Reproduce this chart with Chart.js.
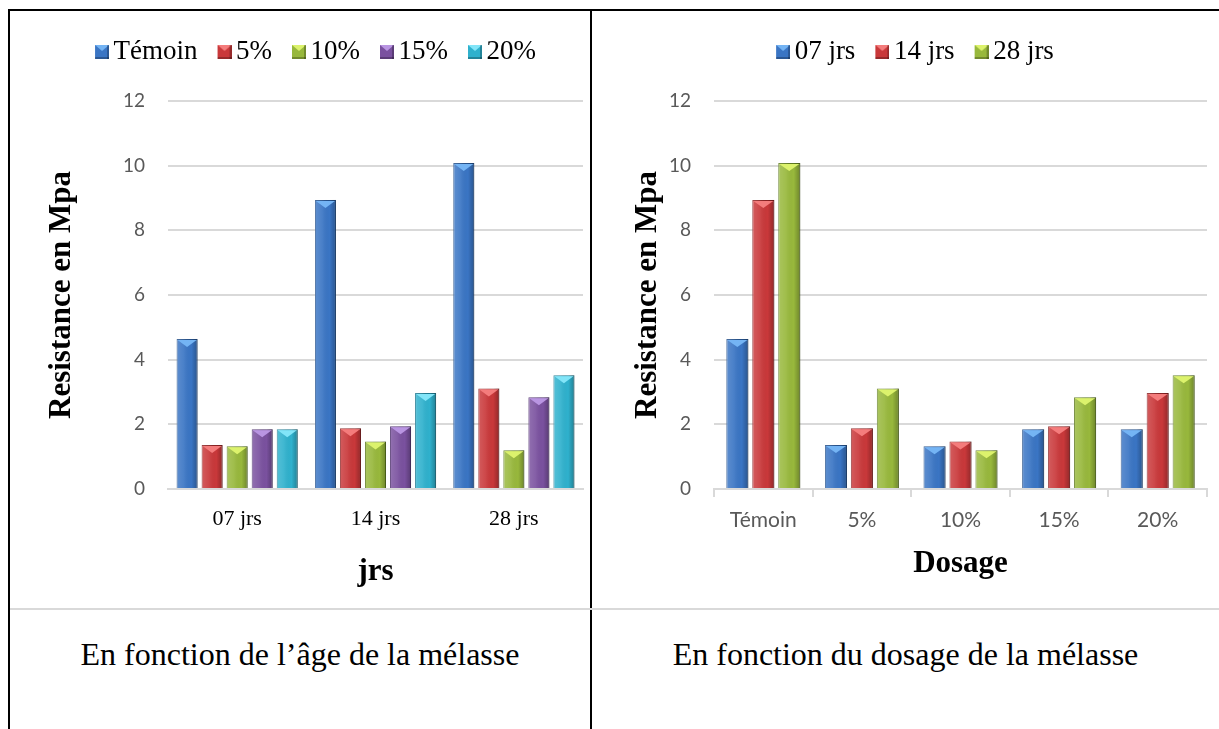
<!DOCTYPE html>
<html>
<head>
<meta charset="utf-8">
<script src="https://cdn.jsdelivr.net/npm/chart.js@4.4.1/dist/chart.umd.min.js"></script>
<style>
  body { margin: 0; background: #fff; }
  #page { position: relative; width: 1219px; height: 729px; overflow: hidden; background: #fff; }
  .rule { position: absolute; }
  canvas { position: absolute; }
  .cap { position: absolute; top: 636px; height: 36px; line-height: 36px; text-align: center;
         font-family: "Liberation Serif", "Times New Roman", serif; font-size: 32px; color: #000; }
</style>
</head>
<body>
<div id="page">
  <div class="rule" style="left:8px;top:9px;width:1211px;height:2px;background:#000"></div>
  <div class="rule" style="left:8px;top:9px;width:2px;height:720px;background:#000"></div>
  <div class="rule" style="left:590px;top:9px;width:2px;height:720px;background:#000"></div>
  <div class="rule" style="left:10px;top:608px;width:1209px;height:2px;background:#d9d9d9"></div>
  <canvas id="chartAge" width="576" height="596" style="left:12px;top:12px"></canvas>
  <canvas id="chartDose" width="626" height="596" style="left:593px;top:12px"></canvas>
  <div class="cap" style="left:10px;width:580px">En fonction de l’âge de la mélasse</div>
  <div class="cap" style="left:592px;width:627px">En fonction du dosage de la mélasse</div>
</div>
<script>
// valeurs (Mpa)
const ages = ['07 jrs', '14 jrs', '28 jrs'];
const dosages = ['Témoin', '5%', '10%', '15%', '20%'];
const temoin = [4.64, 8.94, 10.08];
const dose5 = [1.36, 1.88, 3.11];
const dose10 = [1.32, 1.47, 1.20];
const dose15 = [1.85, 1.94, 2.84];
const dose20 = [1.85, 2.97, 3.52];
const yTicks = [0, 2, 4, 6, 8, 10, 12];

// couleurs : base, facette du haut, contour
const couleurs = [
  ['#3a75c4', '#74b4f4', '#24508a'],
  ['#c9383a', '#f47c7c', '#8a2223'],
  ['#98b83c', '#dcf26c', '#5f7a20'],
  ['#7a519f', '#b995e2', '#4d2f6d'],
  ['#2fb1cd', '#82e5f8', '#1d7990']
];

const serif = '"Liberation Serif", "Times New Roman", serif';
const sans = 'Lato, "Open Sans", sans-serif';
Chart.defaults.font.family = serif;

// petite icone de légende avec le biseau
const icone = (c) => {
  const cv = document.createElement('canvas');
  cv.width = 19; cv.height = 14;
  const g = cv.getContext('2d');
  g.fillStyle = c[0];
  g.fillRect(5, 0, 14, 14);
  g.fillStyle = c[1];
  g.beginPath(); g.moveTo(5, 0); g.lineTo(19, 0); g.lineTo(12, 6); g.closePath(); g.fill();
  g.fillStyle = 'rgba(0,0,0,0.25)';
  g.fillRect(5, 12, 14, 2);
  g.fillRect(17, 0, 2, 14);
  return cv;
};

// effet 3D sur les barres
const biseau = {
  id: 'biseau',
  afterDatasetsDraw(chart) {
    const ctx = chart.ctx;
    chart.data.datasets.forEach((ds, i) => {
      const meta = chart.getDatasetMeta(i);
      meta.data.forEach(bar => {
        const {x, y, base, width} = bar.getProps(['x', 'y', 'base', 'width'], true);
        const l = x - width / 2, r = x + width / 2;
        ctx.save();
        const grad = ctx.createLinearGradient(l, 0, r, 0);
        grad.addColorStop(0, 'rgba(255,255,255,0.18)');
        grad.addColorStop(0.35, 'rgba(255,255,255,0.08)');
        grad.addColorStop(0.7, 'rgba(0,0,0,0)');
        grad.addColorStop(1, 'rgba(0,0,0,0.28)');
        ctx.fillStyle = grad;
        ctx.fillRect(l, y, width, base - y);
        ctx.fillStyle = ds.topColor;
        ctx.beginPath();
        ctx.moveTo(l + 1, y + 1);
        ctx.lineTo(r - 1, y + 1);
        ctx.lineTo(x, y + Math.min(8, base - y));
        ctx.closePath();
        ctx.fill();
        ctx.restore();
      });
    });
  }
};

// déplace la légende
const decaleLegende = {
  id: 'decaleLegende',
  afterLayout(chart, args, opts) {
    const lg = chart.legend;
    lg.left += opts.dx; lg.right += opts.dx;
    lg.top += opts.dy; lg.bottom += opts.dy;
  }
};

const makeDatasets = (labels, series, catPct, barPct) => series.map((s, i) => ({
  label: labels[i],
  data: s,
  backgroundColor: couleurs[i][0],
  borderColor: couleurs[i][2],
  borderWidth: 1,
  topColor: couleurs[i][1],
  categoryPercentage: catPct,
  barPercentage: barPct,
  pointStyle: icone(couleurs[i])
}));

const yScale = (titlePad, largeur) => ({
  min: 0, max: 12,
  afterBuildTicks: s => { s.ticks = yTicks.map(v => ({value: v})); },
  ticks: { padding: 23, color: '#595959', font: {family: sans, size: 19} },
  grid: { color: '#d9d9d9', lineWidth: 2, drawTicks: false },
  border: { display: false },
  title: { display: true, text: 'Resistance en Mpa', color: '#000',
           font: {family: serif, size: 31, weight: 'bold', lineHeight: 1.2},
           padding: {top: titlePad} },
  afterFit: s => { s.width = largeur; }
});

const legende = (size, pad) => ({
  position: 'top',
  labels: { usePointStyle: true, pointStyleWidth: 1, padding: pad, color: '#000',
            font: {family: serif, size: size, weight: 'normal'} }
});

new Chart(document.getElementById('chartAge').getContext('2d'), {
  type: 'bar',
  data: {
    labels: ages,
    datasets: makeDatasets(dosages, [temoin, dose5, dose10, dose15, dose20], 0.905, 0.84)
  },
  options: {
    responsive: false,
    animation: false,
    layout: { padding: {top: 28, right: 5, left: 0, bottom: 0} },
    plugins: {
      legend: legende(27, 24),
      tooltip: { enabled: false },
      decaleLegende: { dx: 20, dy: -25.5 }
    },
    scales: {
      x: {
        ticks: { padding: 17, color: '#000', font: {family: serif, size: 22, weight: 'normal'} },
        grid: { display: false, drawTicks: false },
        border: { color: '#d9d9d9', width: 2 },
        title: { display: true, text: 'jrs', color: '#000',
                 font: {family: serif, size: 31, weight: 'bold', lineHeight: 1.2},
                 padding: {bottom: 17} },
        afterFit: s => { s.height = 119; }
      },
      y: yScale(31, 156)
    }
  },
  plugins: [biseau, decaleLegende]
});

const ageSeries = ages.map((a, k) => [temoin[k], dose5[k], dose10[k], dose15[k], dose20[k]]);

new Chart(document.getElementById('chartDose').getContext('2d'), {
  type: 'bar',
  data: {
    labels: dosages,
    datasets: makeDatasets(ages, ageSeries, 0.79, 0.85)
  },
  options: {
    responsive: false,
    animation: false,
    layout: { padding: {top: 28, right: 12, left: 0, bottom: 0} },
    plugins: {
      legend: legende(27, 24),
      tooltip: { enabled: false },
      decaleLegende: { dx: 17, dy: -25.5 }
    },
    scales: {
      x: {
        ticks: { padding: 11, color: '#595959', font: {family: sans, size: 21} },
        grid: { display: true, drawOnChartArea: false, drawTicks: true, tickLength: 8,
                color: '#d9d9d9', lineWidth: 2 },
        border: { color: '#d9d9d9', width: 2 },
        title: { display: true, text: 'Dosage', color: '#000',
                 font: {family: serif, size: 31, weight: 'bold', lineHeight: 1.2},
                 padding: {bottom: 25} },
        afterFit: s => { s.height = 119; }
      },
      y: yScale(36, 121)
    }
  },
  plugins: [biseau, decaleLegende]
});
</script>
</body>
</html>
